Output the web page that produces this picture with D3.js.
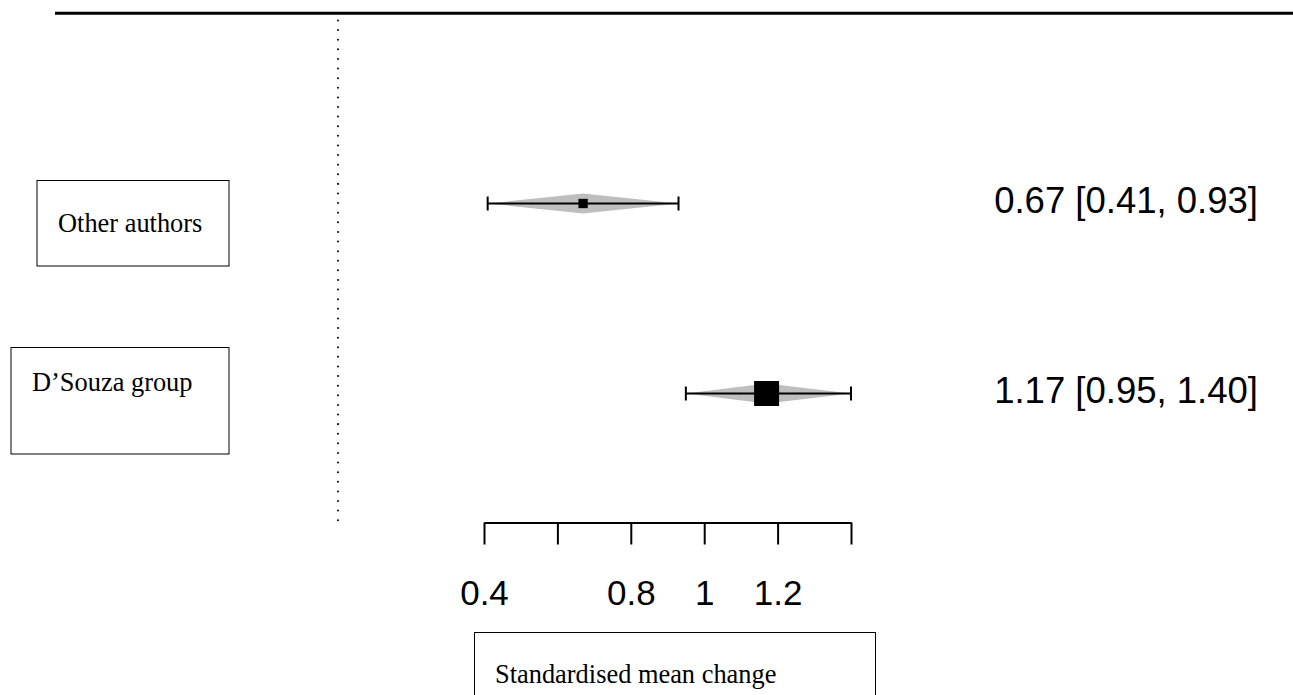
<!DOCTYPE html>
<html>
<head>
<meta charset="utf-8">
<script src="https://cdn.jsdelivr.net/npm/d3@7"></script>
<style>
  html, body { margin: 0; padding: 0; background: #fff; }
  svg { display: block; }
</style>
</head>
<body>
<svg id="chart" width="1293" height="695"></svg>
<script>
// Subgroup estimates (standardised mean change with 95% CI)
const groups    = ["Other authors", "D\u2019Souza group"];
const estimates = [0.67, 1.17];
const lowers    = [0.41, 0.95];
const uppers    = [0.93, 1.40];
const weights   = [13.8, 100];   // relative weight, sets square area

const tickValues = [0.4, 0.6, 0.8, 1.0, 1.2, 1.4];
const tickLabels = ["0.4", "", "0.8", "1", "1.2", ""];
const xLabel = "Standardised mean change";

const svg = d3.select("#chart");

const x = d3.scaleLinear().domain([0.4, 1.4]).range([484, 851]);
const y = d3.scalePoint().domain(groups).range([203.5, 393.5]);
const sq = d3.scaleSqrt().domain([0, 100]).range([0, 25]);

const sans = "'Liberation Sans', Arial, Helvetica, sans-serif";
const serif = "'Liberation Serif', 'Times New Roman', Times, serif";

// top rule
svg.append("line")
  .attr("x1", 55).attr("x2", 1293).attr("y1", 13.3).attr("y2", 13.3)
  .attr("stroke", "#000").attr("stroke-width", 3);

// dotted separator
svg.append("line")
  .attr("x1", 338).attr("x2", 338).attr("y1", 20.5).attr("y2", 521)
  .attr("stroke", "#000").attr("stroke-width", 2)
  .attr("stroke-dasharray", "0.01 9.6").attr("stroke-linecap", "round");

const rows = groups.map((g, i) => ({
  g, est: estimates[i], lo: lowers[i], hi: uppers[i], w: weights[i]
}));

// group label boxes
const boxes = [
  { x0: 37, x1: 229, y0: 180.5, y1: 266, tx: 58, ty: 232 },
  { x0: 11, x1: 229, y0: 347.5, y1: 454, tx: 32, ty: 391 }
];
rows.forEach((d, i) => {
  const b = boxes[i];
  svg.append("rect")
    .attr("x", b.x0).attr("y", b.y0)
    .attr("width", b.x1 - b.x0).attr("height", b.y1 - b.y0)
    .attr("fill", "none").attr("stroke", "#000").attr("stroke-width", 1);
  svg.append("text")
    .attr("x", b.tx).attr("y", b.ty)
    .attr("font-family", serif).attr("font-size", 26.4)
    .text(d.g);
});

const row = svg.selectAll("g.row").data(rows).join("g").attr("class", "row");

// diamond spanning the CI
row.append("path")
  .attr("fill", "#bebebe")
  .attr("d", d => {
    const cy = y(d.g), h = 10;
    return `M${x(d.lo)},${cy} L${x(d.est)},${cy - h} L${x(d.hi)},${cy} L${x(d.est)},${cy + h} Z`;
  });

// CI line and end caps
row.append("line")
  .attr("x1", d => x(d.lo)).attr("x2", d => x(d.hi))
  .attr("y1", d => y(d.g)).attr("y2", d => y(d.g))
  .attr("stroke", "#000").attr("stroke-width", 2.2);
row.selectAll("line.cap")
  .data(d => [d.lo, d.hi].map(v => ({ v, cy: y(d.g) })))
  .join("line").attr("class", "cap")
  .attr("x1", c => x(c.v)).attr("x2", c => x(c.v))
  .attr("y1", c => c.cy - 7).attr("y2", c => c.cy + 7)
  .attr("stroke", "#000").attr("stroke-width", 2);

// point estimate square
row.append("rect")
  .attr("x", d => x(d.est) - sq(d.w) / 2)
  .attr("y", d => y(d.g) - sq(d.w) / 2)
  .attr("width", d => sq(d.w)).attr("height", d => sq(d.w))
  .attr("fill", "#000");

// estimate text
const f2 = d3.format(".2f");
row.append("text")
  .attr("x", 1258).attr("y", d => y(d.g) + 9.5)
  .attr("text-anchor", "end")
  .attr("font-family", sans).attr("font-size", 36.5)
  .text(d => `${f2(d.est)} [${f2(d.lo)}, ${f2(d.hi)}]`);

// x axis
const axis = d3.axisBottom(x)
  .tickValues(tickValues)
  .tickFormat((v, i) => tickLabels[i])
  .tickSizeOuter(0).tickSizeInner(22).tickPadding(36);
const ax = svg.append("g").attr("transform", "translate(0,522.5)").call(axis);
ax.select(".domain").attr("stroke-width", 2);
ax.selectAll(".tick line").attr("stroke-width", 2);
ax.selectAll(".tick text")
  .attr("font-family", sans).attr("font-size", 35).attr("fill", "#000")
  .attr("dy", "0.71em");

// axis title box
svg.append("rect")
  .attr("x", 474.5).attr("y", 632.5).attr("width", 401).attr("height", 80)
  .attr("fill", "none").attr("stroke", "#000").attr("stroke-width", 1);
svg.append("text")
  .attr("x", 495).attr("y", 683)
  .attr("font-family", serif).attr("font-size", 26.4)
  .text(xLabel);
</script>
</body>
</html>
